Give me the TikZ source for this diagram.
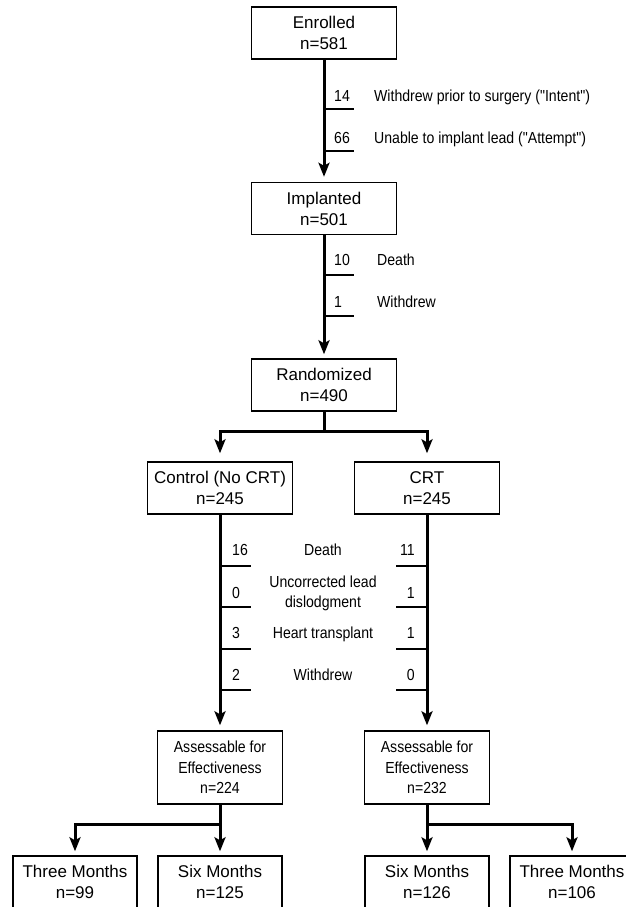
\documentclass[tikz,border=0pt]{standalone}
\usepackage{fontspec}
\setmainfont{Liberation Sans}
\newfontfamily\narrowfont[FakeStretch=0.88]{Liberation Sans}
\usetikzlibrary{arrows.meta}

\begin{document}
\begin{tikzpicture}[x=1pt, y=-1pt,
    box/.style={draw, line width=1.4pt, minimum width=145pt, minimum height=52pt,
                inner sep=0pt, align=center, font=\fontsize{17}{21}\selectfont},
    assess/.style={box, minimum width=125pt, minimum height=73pt,
                   font=\narrowfont\fontsize{16}{20.5}\selectfont},
    endbox/.style={box, minimum width=124pt},
    flow/.style={line width=3pt},
    arrow/.style={flow, -{Stealth[length=14pt, width=11pt, inset=3pt]}, shorten >=5pt},
    branch/.style={line width=2.6pt},
    note/.style={inner sep=0pt, font=\narrowfont\fontsize{16}{20}\selectfont}
]
\clip (0,0) rectangle (626,907);

% Main trunk
\node[box] (enrolled) at (324,33) {Enrolled\\n=581};
\node[box] (implanted) at (324,208.5) {Implanted\\n=501};
\node[box] (randomized) at (324,385) {Randomized\\n=490};

\draw[arrow] (enrolled) -- (implanted);
\draw[arrow, shorten >=4pt] (implanted) -- (randomized);

% Exclusions before randomization
\foreach \y in {109,151,275,316}
    \draw[branch] (enrolled.south |- 0,\y) -- ++(30,0);

\node[note, anchor=base west] (n14) at (334,101) {14};
\node[note, anchor=base west] (w14) at (374,101) {Withdrew prior to surgery ("Intent")};
\node[note, anchor=base west] (n66) at (334,143) {66};
\node[note, anchor=base west] (w66) at (374,143) {Unable to implant lead ("Attempt")};
\node[note, anchor=base west] (n10) at (334,265) {10};
\node[note, anchor=base west] (w10) at (377,265) {Death};
\node[note, anchor=base west] (n1) at (334,307) {1};
\node[note, anchor=base west] (w1) at (377,307) {Withdrew};

% Randomized arms
\node[box] (control) at (220,488) {Control (No CRT)\\n=245};
\node[box] (crt) at (427,488) {CRT\\n=245};

\coordinate (split) at (324,431);
\draw[flow] (randomized) -- (split);
\draw[arrow, shorten >=8pt] (split) -| (control);
\draw[arrow, shorten >=8pt] (split) -| (crt);

% Assessable groups
\node[box, assess] (assessL) at (220,767.5) {Assessable for\\Effectiveness\\n=224};
\node[box, assess] (assessR) at (427,767.5) {Assessable for\\Effectiveness\\n=232};

\draw[arrow] (control) -- (assessL);
\draw[arrow] (crt) -- (assessR);

% Exclusions after randomization
\foreach \y in {566,607,649,690} {
    \draw[branch] (control.south |- 0,\y) -- ++(31,0);
    \draw[branch] (crt.south |- 0,\y) -- ++(-31,0);
}

\node[note, anchor=base west] (l1) at (232,555) {16};
\node[note, anchor=base] (c1) at (323,555) {Death};
\node[note, anchor=base east] (r1) at (415,555) {11};

\node[note, anchor=base west] (l2) at (232,598) {0};
\node[note, align=center] (c2) at (323,593) {Uncorrected lead\\dislodgment};
\node[note, anchor=base east] (r2) at (415,598) {1};

\node[note, anchor=base west] (l3) at (232,638) {3};
\node[note, anchor=base] (c3) at (323,638) {Heart transplant};
\node[note, anchor=base east] (r3) at (415,638) {1};

\node[note, anchor=base west] (l4) at (232,680) {2};
\node[note, anchor=base] (c4) at (323,680) {Withdrew};
\node[note, anchor=base east] (r4) at (415,680) {0};

% Follow-up visits
\node[box, endbox] (threeL) at (75,882) {Three Months\\n=99};
\node[box, endbox] (sixL) at (220,882) {Six Months\\n=125};
\node[box, endbox] (sixR) at (427,882) {Six Months\\n=126};
\node[box, endbox] (threeR) at (572,882) {Three Months\\n=106};

\coordinate (splitL) at (220,824);
\coordinate (splitR) at (427,824);
\draw[arrow, shorten >=4pt] (assessL) -- (sixL);
\draw[arrow, shorten >=4pt] (splitL) -| (threeL);
\draw[arrow, shorten >=4pt] (assessR) -- (sixR);
\draw[arrow, shorten >=4pt] (splitR) -| (threeR);

\end{tikzpicture}
\end{document}
